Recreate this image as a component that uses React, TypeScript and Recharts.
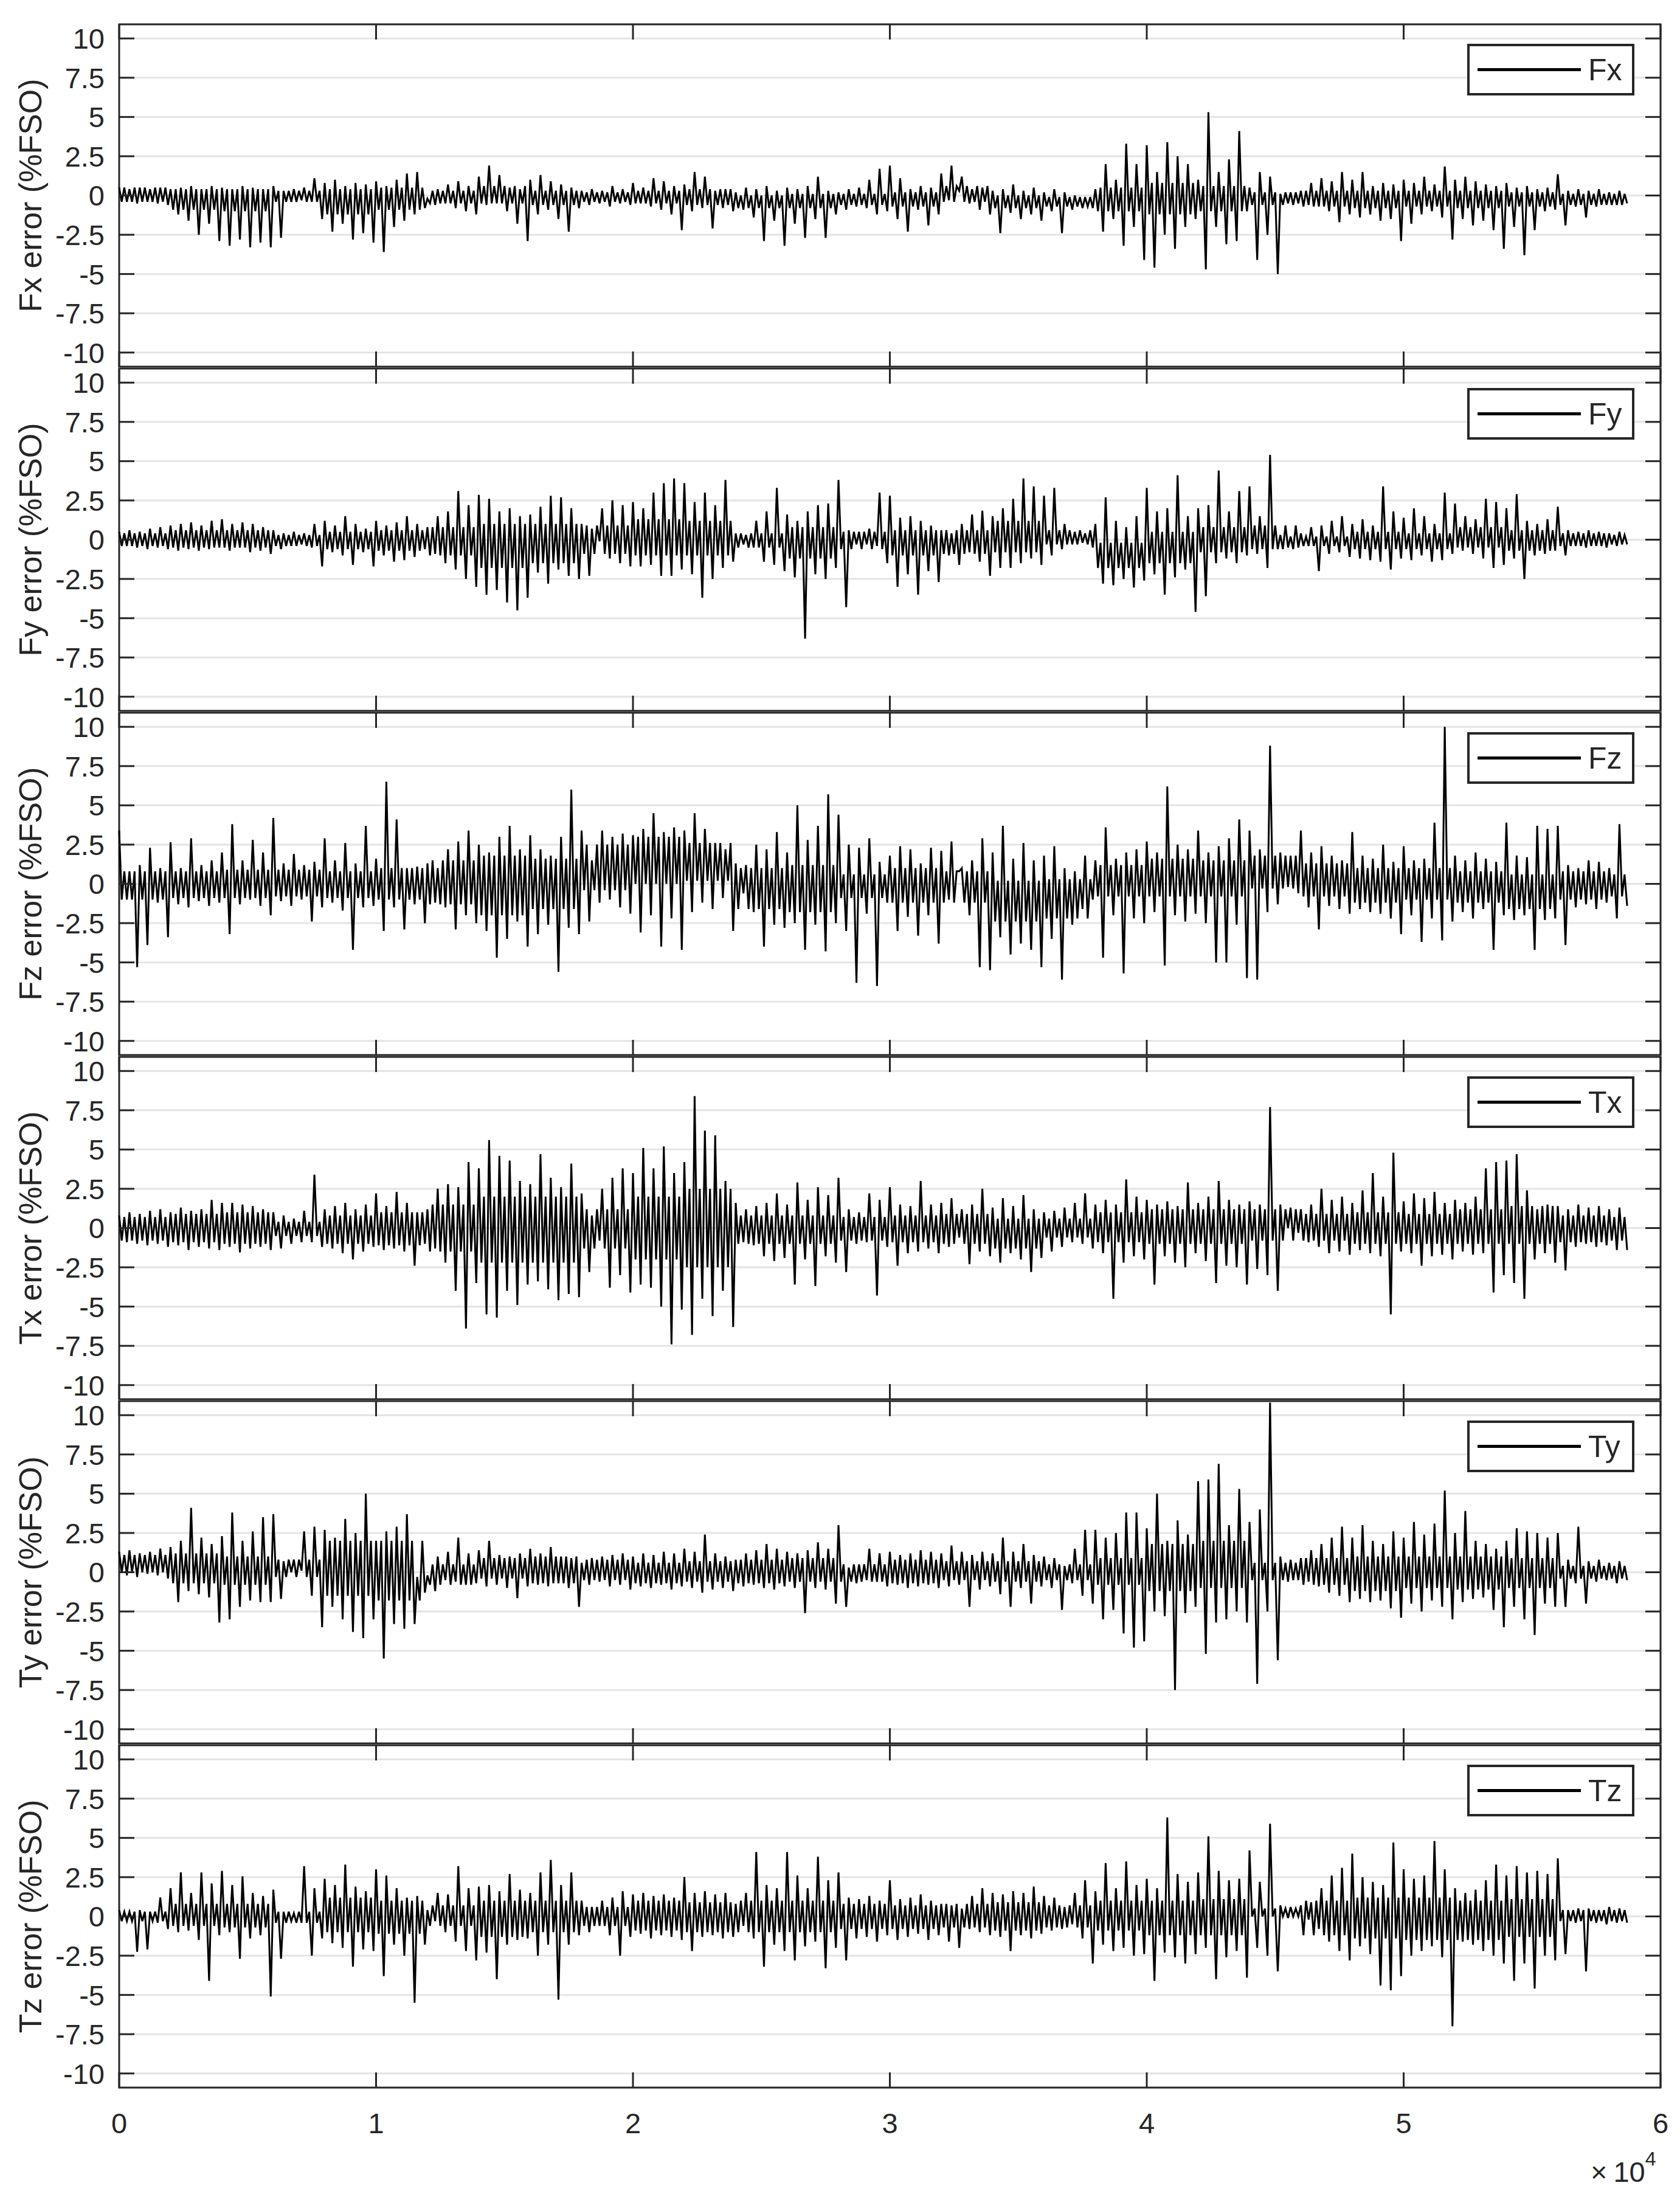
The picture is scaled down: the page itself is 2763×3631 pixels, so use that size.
import React from 'react';
import { LineChart, Line, XAxis, YAxis, CartesianGrid, ReferenceArea, Legend } from 'recharts';

// one stored window = 400 samples, one core block = 2000 samples
const windowSize = 400;
const blockWindows = 5;

const channels = ['Fx', 'Fy', 'Fz', 'Tx', 'Ty', 'Tz'];
const xTicks = [0, 10000, 20000, 30000, 40000, 50000, 60000];
const xTickLabels = ['0', '1', '2', '3', '4', '5', '6'];
const yTicks = [-10, -7.5, -5, -2.5, 0, 2.5, 5, 7.5, 10];

// peaks: local max / local min per 400-sample window
const fx = [
  0.5, -0.4, 0.4, -0.5, 0.5, -0.4, 0.4, -0.5, 0.5, -0.6, 0.4, -1.2, 0.5, -1.6, 0.6, -2.5, 0.4, -1.8, 0.6, -2.9,
  0.5, -3.2, 0.4, -2.8, 0.6, -3.3, 0.5, -3.0, 0.4, -3.3, 0.6, -2.7, 0.3, -0.4, 0.4, -0.3, 0.5, -0.4, 1.1, -1.5,
  0.8, -2.3, 1.0, -1.8, 0.6, -2.8, 0.8, -2.4, 0.7, -3.0, 0.9, -3.6, 0.6, -2.0, 1.0, -1.6, 1.4, -1.2, 1.5, -0.8,
  -0.2, -0.6, 0.4, -0.5, 0.7, -0.8, 0.9, -1.0, 0.6, -1.2, 1.2, -0.6, 1.9, -0.5, 1.3, -1.0, 0.5, -1.8, 0.4, -2.9,
  1.0, -1.2, 1.3, -0.9, 0.9, -1.5, 0.7, -2.3, 0.5, -0.8, 0.3, -0.6, 0.4, -0.5, 0.3, -0.7, 0.6, -0.5, 0.4, -0.6,
  0.8, -0.5, 0.5, -0.7, 1.1, -0.9, 0.9, -1.2, 0.6, -2.2, 0.7, -1.0, 1.5, -0.8, 1.2, -2.1, 0.3, -0.8, 0.4, -1.0,
  0.2, -0.9, 0.5, -1.4, 0.4, -2.9, 0.6, -1.6, 0.3, -3.2, 0.5, -1.8, 0.4, -2.7, 0.6, -1.5, 1.2, -2.7, 0.3, -1.2,
  0.2, -0.9, 0.4, -0.7, 0.5, -0.8, 1.0, -1.2, 1.7, -1.0, 1.9, -1.5, 1.1, -2.3, 0.4, -0.9, 0.6, -1.9, 0.5, -1.2,
  1.4, -0.3, 1.9, 0.3, 1.2, -0.5, 0.4, -0.9, 0.5, -1.2, 0.3, -2.4, 0.4, -1.1, 0.7, -1.5, 0.3, -1.2, 0.5, -1.6,
  0.2, -1.0, 0.4, -2.4, 0.2, -0.9, 0.0, -0.8, -0.1, -0.8, 0.4, -2.3, 2.0, -1.5, 1.0, -3.2, 3.3, -2.0, 2.0, -4.1,
  3.2, -4.6, 1.5, -2.5, 3.4, -3.4, 2.5, -2.0, 2.0, -1.5, 1.0, -4.7, 5.3, -2.0, 1.5, -3.1, 2.3, -2.9, 4.1, -1.0,
  0.5, -4.1, 1.5, -2.5, 1.2, -5.0, 0.1, -0.5, 0.2, -0.5, 0.3, -0.6, 0.8, -0.7, 1.1, -1.0, 0.9, -1.7, 1.5, -1.2,
  1.0, -1.4, 1.5, -1.2, 0.6, -1.6, 0.8, -1.5, 0.7, -2.9, 1.0, -1.8, 0.8, -1.2, 1.2, -1.0, 0.7, -1.4, 1.85, -2.8,
  1.0, -1.5, 1.2, -1.9, 0.9, -1.6, 0.7, -2.2, 0.6, -3.4, 0.8, -2.0, 0.5, -3.8, 0.6, -2.2, 0.4, -1.0, 0.5, -0.9,
  1.35, -1.9, 0.3, -0.7, 0.4, -1.4, 0.3, -0.7, 0.4, -0.6, 0.2, -0.6, 0.3, -0.5,
];

const fy = [
  0.5, -0.4, 0.6, -0.5, 0.5, -0.6, 0.7, -0.5, 0.8, -0.6, 0.9, -0.7, 1.0, -0.6, 1.1, -0.7, 0.9, -0.6, 1.2, -0.5,
  1.3, -0.7, 1.0, -0.5, 1.1, -0.8, 1.0, -0.7, 0.8, -0.9, 0.6, -0.6, 0.4, -0.4, 0.5, -0.3, 0.4, -0.5, 1.0, -1.7,
  1.2, -0.8, 0.9, -1.0, 1.5, -1.6, 1.0, -0.8, 0.7, -1.7, 1.2, -1.0, 0.9, -1.4, 1.1, -1.3, 1.5, -1.1, 1.0, -0.6,
  0.8, -0.9, 1.5, -1.5, 1.8, -1.9, 3.1, -2.5, 2.2, -3.0, 2.85, -3.5, 2.6, -3.2, 1.8, -4.0, 2.0, -4.5, 1.5, -3.7,
  1.6, -2.1, 2.1, -2.8, 2.8, -1.9, 2.7, -2.3, 2.0, -2.5, 1.0, -2.3, 0.7, -0.1, 2.0, -1.2, 2.5, -1.5, 2.2, -1.7,
  2.4, -1.7, 2.0, -1.6, 3.0, -2.3, 3.6, -2.3, 3.9, -1.9, 3.6, -2.2, 2.4, -3.7, 3.0, -2.5, 2.2, -1.8, 3.8, -1.4,
  0.4, -0.3, 0.3, -0.5, 1.2, -1.4, 1.8, -1.6, 3.3, -2.0, 1.6, -2.4, 1.2, -6.3, 1.8, -2.2, 2.2, -2.5, 2.3, -1.8,
  3.8, -4.3, 0.6, -0.3, 0.5, -0.3, 0.7, -0.4, 3.0, -1.5, 2.8, -3.0, 1.4, -2.2, 1.5, -3.5, 1.2, -2.0, 0.9, -2.7,
  0.6, -1.0, 0.4, -1.6, 1.0, -0.8, 1.6, -1.4, 1.85, -2.3, 1.5, -1.8, 2.0, -1.8, 2.6, -1.5, 3.9, -1.2, 3.4, -1.6,
  2.8, -1.0, 3.3, -0.6, 1.0, -0.3, 0.5, -0.2, 0.4, -0.5, 1.0, -2.8, 2.7, -2.9, 1.2, -2.5, 0.8, -3.05, 1.5, -2.6,
  3.3, -2.2, 1.8, -3.5, 2.0, -2.4, 4.1, -1.9, 1.5, -4.6, 2.0, -3.6, 2.2, -1.5, 4.4, -1.2, 1.8, -1.5, 3.1, -1.0,
  3.4, -0.9, 1.5, -1.8, 5.4, -0.6, 0.3, -0.5, 0.2, -0.5, 0.4, -0.4, 0.8, -2.0, 0.9, -0.9, 1.2, -0.8, 1.5, -1.1,
  1.0, -1.2, 1.3, -1.3, 0.9, -1.4, 3.4, -1.9, 1.8, -1.2, 1.4, -1.3, 2.0, -1.0, 1.5, -1.4, 1.0, -1.3, 3.0, -0.9,
  2.3, -0.7, 1.5, -0.9, 1.3, -1.2, 2.6, -1.8, 2.4, -1.6, 2.0, -1.2, 2.9, -2.5, 1.2, -1.0, 1.0, -0.9, 1.3, -0.7,
  2.1, -1.0, 0.6, -0.4, 0.5, -0.5, 0.6, -0.4, 0.5, -0.5, 0.4, -0.4, 0.5, -0.3,
];

const fz = [
  3.4, -1.0, 0.8, -5.3, 1.2, -3.9, 2.3, -1.2, 1.0, -3.4, 2.65, -1.3, 1.0, -1.5, 2.9, -1.1, 1.2, -1.4, 1.5, -1.2,
  2.0, -3.2, 3.8, -1.3, 1.5, -1.0, 2.8, -1.4, 2.0, -2.0, 4.2, -1.1, 1.3, -1.4, 1.9, -1.0, 1.2, -2.4, 1.4, -1.5,
  2.9, -1.2, 1.5, -1.7, 2.6, -4.2, 1.3, -1.5, 3.7, -1.4, 1.6, -3.0, 6.5, -1.5, 4.1, -2.9, 1.0, -1.3, 1.1, -2.5,
  1.3, -1.2, 1.0, -1.5, 2.2, -2.9, 2.7, -2.0, 3.4, -2.5, 2.5, -3.0, 2.0, -4.7, 3.0, -3.5, 3.7, -2.4, 2.2, -4.0,
  3.1, -3.2, 2.2, -2.6, 1.8, -5.6, 3.0, -2.8, 6.0, -3.2, 3.4, -2.4, 1.5, -1.2, 3.4, -1.0, 3.0, -1.5, 3.2, -1.9,
  3.1, -3.1, 3.5, -2.0, 4.5, -4.0, 3.3, -2.2, 3.6, -4.2, 3.4, -1.8, 4.5, -1.2, 3.5, -1.6, 2.6, -0.9, 2.2, -3.0,
  1.3, -0.6, 1.2, -1.8, 2.5, -4.0, 2.2, -2.6, 3.3, -2.8, 2.0, -2.5, 5.0, -4.2, 2.8, -2.6, 3.7, -4.3, 5.7, -2.5,
  4.4, -3.0, 2.5, -6.3, 2.3, -1.9, 2.9, -6.5, 1.4, -1.2, 1.8, -3.0, 2.4, -2.1, 2.2, -3.3, 1.3, -2.0, 2.3, -3.8,
  2.1, -1.0, 2.7, 0.8, 1.0, -2.0, 1.5, -5.3, 2.9, -5.5, 2.0, -3.4, 3.7, -4.5, 1.6, -3.8, 2.6, -4.2, 1.5, -5.3,
  1.8, -3.5, 2.4, -6.1, 1.0, -2.6, 0.8, -1.6, 1.8, -1.0, 1.5, -4.7, 3.6, -2.0, 1.6, -5.7, 2.0, -2.2, 2.2, -2.5,
  2.7, -1.8, 2.0, -5.2, 6.2, -2.0, 2.5, -2.4, 2.2, -1.9, 3.4, -2.5, 2.0, -5.0, 2.4, -5.0, 2.9, -2.6, 4.1, -6.0,
  3.4, -6.1, 2.2, -1.8, 8.8, -1.3, 2.0, -0.2, 1.8, -0.6, 3.4, -1.5, 2.0, -2.9, 2.4, -1.4, 1.8, -1.6, 1.5, -1.9,
  3.3, -1.6, 1.8, -1.8, 1.6, -1.9, 2.5, -2.2, 1.4, -3.2, 2.4, -2.0, 1.5, -3.7, 1.6, -2.2, 3.9, -3.6, 10.0, -2.4,
  1.8, -1.8, 1.5, -2.2, 2.0, -1.6, 1.6, -4.2, 1.4, -2.0, 3.9, -2.3, 1.8, -2.0, 1.7, -4.2, 3.7, -2.3, 3.5, -2.2,
  3.7, -3.9, 1.2, -1.5, 1.0, -1.3, 1.5, -1.6, 1.4, -1.2, 1.0, -2.2, 3.8, -1.4,
];

const tx = [
  0.8, -0.9, 1.0, -1.0, 0.9, -1.1, 1.1, -1.0, 1.2, -1.2, 1.0, -1.1, 1.3, -1.4, 1.1, -1.2, 1.2, -1.3, 1.8, -1.4,
  1.6, -1.2, 1.6, -1.55, 1.5, -1.3, 1.4, -1.2, 1.2, -1.4, 1.0, -1.3, 0.8, -1.0, 0.6, -0.9, 1.1, -0.9, 3.4, -1.2,
  1.2, -1.3, 1.4, -1.6, 1.6, -2.0, 1.2, -1.5, 1.5, -1.2, 2.2, -1.4, 1.4, -1.3, 2.3, -1.5, 1.6, -2.4, 1.0, -1.0,
  1.2, -1.3, 2.5, -2.2, 2.8, -4.0, 2.6, -6.4, 4.2, -3.5, 3.8, -5.5, 5.6, -5.7, 4.6, -4.0, 4.3, -4.9, 3.0, -3.6,
  2.8, -3.4, 4.7, -3.9, 3.2, -4.6, 2.6, -4.2, 4.1, -4.4, 2.2, -2.8, 0.8, -0.8, 2.5, -3.8, 3.2, -3.0, 3.8, -4.1,
  3.5, -3.6, 5.1, -3.8, 3.8, -5.0, 5.2, -7.4, 3.5, -5.2, 4.2, -6.8, 8.4, -4.5, 6.2, -5.6, 5.9, -4.0, 3.0, -6.3,
  1.6, -0.9, 1.2, -1.1, 1.4, -1.8, 1.6, -2.1, 2.2, -1.9, 1.5, -3.6, 2.9, -2.0, 1.8, -3.7, 2.6, -1.8, 2.1, -2.2,
  3.2, -2.8, 1.2, -1.0, 1.0, -0.9, 2.2, -4.3, 1.8, -1.2, 2.6, -2.4, 1.5, -1.6, 1.4, -1.5, 3.0, -1.3, 1.5, -1.6,
  1.6, -1.2, 1.9, -0.6, 1.2, -2.3, 1.5, -1.5, 2.5, -1.8, 1.3, -2.2, 1.9, -1.6, 1.4, -2.0, 2.1, -2.8, 1.2, -1.9,
  1.0, -1.5, 1.1, -1.2, 1.3, -0.9, 1.6, -1.0, 2.2, -1.3, 1.5, -1.6, 1.8, -4.5, 1.5, -2.2, 3.1, -1.8, 2.0, -2.0,
  1.8, -3.6, 1.5, -1.8, 1.7, -2.2, 1.4, -2.5, 2.9, -1.6, 1.6, -2.1, 2.0, -3.5, 3.0, -2.4, 1.8, -2.5, 1.5, -3.6,
  1.7, -2.6, 1.5, -3.0, 7.7, -4.0, 1.5, 0.0, 1.3, -0.3, 1.2, -0.9, 1.5, -1.2, 2.5, -1.6, 1.8, -1.5, 2.0, -1.7,
  1.6, -1.4, 2.4, -1.6, 3.5, -1.8, 2.0, -5.5, 4.8, -1.5, 1.7, -1.6, 2.2, -2.4, 1.9, -1.8, 2.3, -1.7, 1.6, -2.0,
  1.8, -1.5, 1.6, -1.7, 2.0, -1.6, 3.8, -4.1, 4.2, -3.0, 4.3, -3.5, 4.7, -4.5, 2.4, -2.0, 1.2, -1.6, 1.5, -2.2,
  1.4, -2.7, 1.2, -1.2, 1.5, -1.0, 1.3, -1.2, 1.4, -1.1, 1.2, -1.4, 1.3, -1.4,
];

const ty = [
  1.3, -0.2, 1.4, -0.3, 1.2, -0.1, 1.3, -0.2, 1.5, -0.4, 1.6, -1.9, 2.0, -1.2, 4.1, -1.4, 2.2, -1.6, 1.8, -3.2,
  2.3, -3.0, 3.8, -2.2, 2.0, -1.8, 2.6, -1.9, 3.5, -1.9, 3.7, -1.7, 0.7, 0.0, 0.8, 0.1, 2.6, -1.5, 2.9, -3.5,
  2.7, -2.2, 2.2, -3.0, 3.4, -3.8, 2.5, -4.2, 5.0, -3.0, 2.0, -5.5, 2.6, -3.3, 2.9, -3.6, 3.7, -3.3, -0.3, -1.3,
  -0.2, -1.2, 1.0, -0.5, 1.3, -0.6, 2.2, -0.8, 1.2, -0.7, 1.4, -0.9, 2.0, -0.8, 1.1, -1.0, 1.0, -1.65, 1.2, -0.9,
  1.5, -0.8, 1.2, -0.9, 1.6, -0.7, 1.0, -1.0, 0.9, -2.2, 0.6, -0.8, 0.9, -0.6, 1.0, -0.9, 1.1, -0.8, 1.2, -1.1,
  1.0, -0.9, 1.2, -1.0, 1.1, -0.8, 1.3, -1.1, 1.2, -0.9, 1.5, -1.0, 1.3, -1.3, 2.4, -1.1, 1.2, -1.0, 1.0, -1.2,
  0.8, -0.9, 1.2, -0.8, 1.4, -1.0, 1.8, -1.1, 1.5, -0.9, 1.3, -1.0, 1.2, -2.6, 1.4, -1.0, 1.9, -1.1, 1.5, -2.0,
  3.0, -2.2, 0.3, -0.7, 0.5, -0.5, 1.5, -0.6, 1.2, -0.9, 1.3, -0.8, 1.1, -1.0, 1.2, -0.9, 1.4, -0.8, 1.3, -1.0,
  1.2, -0.9, 1.7, -0.8, 1.3, -2.2, 1.1, -1.1, 1.3, -0.9, 1.2, -1.4, 2.2, -2.2, 1.3, -1.0, 1.8, -2.0, 1.1, -0.9,
  1.0, -1.0, 0.9, -2.4, 0.4, -0.7, 1.5, -1.5, 2.7, -2.0, 2.7, -3.0, 2.2, -2.4, 2.5, -3.9, 3.8, -4.8, 3.8, -4.4,
  2.8, -2.5, 5.0, -2.8, 2.0, -7.5, 3.3, -2.6, 2.4, -2.2, 5.8, -5.2, 5.9, -3.2, 6.9, -3.0, 3.0, -2.5, 5.3, -3.2,
  3.2, -7.1, 4.0, -2.5, 10.8, -5.6, 1.0, -0.6, 0.8, -0.5, 0.9, -0.6, 1.4, -0.9, 1.8, -1.3, 2.2, -1.5, 2.9, -1.9,
  2.2, -1.7, 3.0, -1.9, 2.0, -1.8, 1.8, -2.3, 2.6, -2.9, 2.2, -2.0, 3.2, -2.5, 2.4, -1.8, 3.1, -2.2, 5.2, -3.0,
  2.5, -1.9, 3.9, -1.7, 2.0, -1.6, 1.8, -2.4, 1.5, -3.5, 2.0, -2.2, 2.8, -3.0, 2.6, -4.0, 2.5, -2.0, 2.2, -2.2,
  2.5, -2.2, 0.8, -0.7, 2.9, -2.0, 0.7, -0.6, 0.8, -0.5, 0.6, -0.7, 0.7, -0.5,
];

const tz = [
  0.4, -0.3, 0.3, -2.25, 0.4, -2.1, 0.3, -0.4, 1.2, -0.8, 1.8, -1.0, 2.8, -0.9, 1.5, -1.5, 2.8, -4.1, 2.1, -1.2,
  2.9, -1.0, 2.0, -2.7, 2.55, -1.4, 1.5, -1.2, 1.3, -5.1, 1.7, -2.7, 0.3, -0.3, 0.2, -0.4, 3.2, -2.5, 1.8, -1.4,
  2.4, -1.7, 2.0, -2.0, 3.3, -3.2, 1.9, -2.1, 1.6, -2.2, 3.0, -3.8, 2.6, -1.8, 1.8, -2.5, 1.2, -5.5, 1.3, -1.8,
  0.4, -0.3, 1.5, -1.0, 1.4, -1.6, 3.2, -2.2, 1.8, -2.8, 1.9, -2.3, 2.0, -4.0, 1.6, -1.8, 2.7, -1.5, 1.7, -1.4,
  1.5, -2.5, 2.8, -1.8, 3.6, -5.3, 2.0, -1.8, 2.8, -1.2, 1.0, -1.0, 0.6, -0.6, 1.0, -1.2, 1.2, -2.5, 1.6, -1.3,
  1.4, -1.1, 1.5, -1.4, 1.3, -1.2, 1.4, -1.3, 1.2, -1.5, 2.5, -2.2, 1.5, -1.3, 1.6, -1.2, 1.4, -1.4, 1.5, -1.3,
  0.8, -0.6, 1.5, -1.4, 4.1, -3.2, 2.0, -1.8, 1.8, -2.2, 4.1, -2.8, 2.6, -1.9, 1.8, -1.6, 3.8, -3.3, 2.3, -2.0,
  2.8, -2.8, 1.2, -1.4, 1.1, -1.3, 1.3, -1.6, 1.0, -1.2, 2.3, -1.5, 1.1, -1.3, 1.2, -1.1, 1.4, -1.5, 1.0, -1.2,
  0.8, -1.6, 0.7, -2.0, 0.5, -0.8, 1.3, -1.0, 1.8, -1.2, 1.5, -1.3, 1.4, -2.2, 1.6, -1.2, 1.5, -1.4, 1.9, -1.1,
  1.3, -0.9, 1.2, -0.8, 0.6, -0.5, 1.5, -1.4, 2.3, -3.0, 1.6, -1.8, 3.4, -2.2, 1.8, -2.0, 3.5, -2.5, 2.0, -2.4,
  2.4, -4.1, 1.8, -2.3, 6.3, -2.6, 2.7, -3.0, 2.2, -2.4, 2.8, -2.0, 5.1, -4.0, 2.9, -2.6, 2.3, -2.2, 2.4, -3.9,
  4.2, -2.0, 2.2, -2.5, 5.9, -3.5, 0.7, -0.1, 0.6, 0.0, 0.7, -0.2, 0.9, -0.8, 1.8, -1.6, 2.6, -2.2, 3.1, -2.8,
  4.0, -1.9, 2.5, -2.4, 2.2, -4.4, 2.0, -4.7, 4.7, -3.8, 3.0, -2.5, 2.4, -2.2, 2.6, -1.9, 4.8, -2.6, 3.0, -7.0,
  1.8, -1.6, 1.5, -1.8, 1.7, -2.2, 2.3, -2.5, 3.3, -3.0, 2.6, -4.1, 3.2, -3.0, 2.8, -4.6, 2.9, -2.5, 2.7, -2.8,
  3.7, -2.4, 0.4, -0.4, 0.5, -3.5, 0.5, -0.4, 0.4, -0.5, 0.6, -0.4, 0.5, -0.4,
];

// dense core of each trace: upper / lower edge of the solid band per 2000-sample block
const fxCore = [
  0.5, -0.4, 0.4, -0.9, 0.4, -1.0, 0.3, -0.4, 0.4, -1.2, 0.5, -0.9, 0.3, -0.5, 0.6, -0.5, 0.3, -0.6, 0.2, -0.4,
  0.3, -0.5, 0.4, -0.6, 0.0, -0.8, 0.1, -0.8, 0.1, -0.6, 0.2, -0.7, 0.6, -0.4, 0.0, -0.8, -0.1, -0.7, 0.5, -1.0,
  0.8, -1.2, 0.6, -1.0, 0.2, -0.6, 0.3, -0.7, 0.3, -0.8, 0.3, -0.7, 0.3, -0.8, 0.2, -0.7, 0.1, -0.6, 0.1, -0.6,
];
const fyCore = [
  0.4, -0.4, 0.6, -0.5, 0.6, -0.5, 0.3, -0.4, 0.5, -0.6, 0.6, -0.7, 0.8, -1.0, 1.0, -1.8, 1.0, -1.5, 0.9, -0.9,
  1.3, -1.0, 1.2, -1.0, 0.4, -0.5, 0.8, -1.2, 0.5, -0.6, 0.6, -1.0, 0.6, -0.9, 1.2, -0.8, 0.6, -0.3, -0.2, -1.8,
  0.5, -1.5, 0.8, -0.8, 0.9, -0.6, 0.2, -0.4, 0.5, -0.6, 0.4, -0.6, 0.8, -0.5, 0.6, -0.7, 0.4, -0.4, 0.3, -0.3,
];
const fzCore = [
  0.8, -1.0, 0.8, -0.9, 0.9, -0.9, 0.9, -0.8, 0.8, -0.9, 1.0, -1.0, 1.5, -1.3, 1.8, -2.0, 1.6, -1.6, 2.5, -0.4,
  3.0, 0.0, 2.6, 0.2, 1.0, -1.6, 1.2, -1.8, 0.6, -0.9, 1.0, -1.2, 0.8, -1.2, 0.2, -2.4, 0.3, -2.2, 1.2, -0.8,
  1.6, -0.8, 1.5, -0.8, 1.8, -0.3, 1.3, -0.8, 1.0, -1.2, 1.0, -1.0, 0.8, -1.2, 0.6, -1.6, 0.8, -1.0, 0.6, -0.8,
];
const txCore = [
  0.7, -0.8, 0.9, -0.9, 1.0, -1.0, 0.4, -0.5, 0.8, -1.0, 1.0, -1.1, 1.5, -1.5, 2.0, -2.2, 2.0, -2.2, 1.2, -1.3,
  2.0, -2.0, 2.5, -2.5, 0.8, -1.0, 0.8, -1.0, 0.7, -0.8, 0.8, -0.9, 0.9, -1.0, 0.6, -1.3, 0.6, -0.6, 1.0, -0.9,
  1.2, -1.0, 1.2, -1.0, 1.2, -0.8, 0.9, -0.8, 1.0, -1.0, 0.9, -1.0, 1.2, -1.0, 1.4, -1.0, 0.8, -0.9, 0.7, -0.8,
];
const tyCore = [
  1.1, 0.0, 1.2, -0.7, 1.0, -0.8, 0.8, -0.3, 2.0, -1.5, 2.0, -1.8, 0.5, -0.8, 0.9, -0.4, 1.0, -0.7, 0.8, -0.5,
  0.6, -0.7, 0.7, -0.6, 0.8, -0.7, 0.9, -0.6, 0.5, -0.6, 0.8, -0.7, 0.7, -0.5, 0.7, -0.6, 0.5, -0.5, 0.9, -0.8,
  1.8, -1.2, 2.0, -1.0, 0.6, -0.5, 0.9, -0.8, 1.0, -1.2, 1.0, -1.0, 1.0, -1.1, 0.9, -1.0, 0.4, -0.4, 0.4, -0.4,
];
const tzCore = [
  0.3, -0.3, 0.8, -0.6, 0.8, -0.7, 0.3, -0.4, 1.2, -1.0, 1.0, -1.1, 0.7, -0.6, 1.0, -1.3, 1.0, -1.0, 0.6, -0.6,
  1.0, -0.9, 0.9, -1.0, 1.0, -1.0, 1.0, -1.0, 0.8, -0.8, 0.7, -0.8, 0.8, -0.7, 0.9, -0.9, 0.7, -0.7, 1.0, -0.9,
  1.0, -1.2, 1.1, -1.2, 0.5, 0.0, 1.0, -1.2, 1.2, -1.4, 1.2, -1.5, 1.0, -1.5, 1.1, -1.3, 0.4, -0.3, 0.4, -0.3,
];

const peaks: Record<string, number[]> = { Fx: fx, Fy: fy, Fz: fz, Tx: tx, Ty: ty, Tz: tz };
const cores: Record<string, number[]> = { Fx: fxCore, Fy: fyCore, Fz: fzCore, Tx: txCore, Ty: tyCore, Tz: tzCore };

// each window is drawn as: peak max, core low, core high, peak min
const windowCount = fx.length / 2;
const rows: Record<string, number>[] = [];
for (let k = 0; k < windowCount; k++) {
  const b = Math.floor(k / blockWindows);
  const step = windowSize / 4;
  const picks = [
    (c: string) => peaks[c][2 * k],
    (c: string) => cores[c][2 * b + 1],
    (c: string) => cores[c][2 * b],
    (c: string) => peaks[c][2 * k + 1],
  ];
  picks.forEach((pick, j) => {
    const row: Record<string, number> = { sample: k * windowSize + j * step };
    channels.forEach((c) => {
      row[c] = pick(c);
    });
    rows.push(row);
  });
}

// layout (px)
const W = 2763;
const PITCH = 566;
const PLOT_LEFT = 196;
const PLOT_RIGHT = 2731;
const PLOT_TOP = 40;
const PLOT_H = 563;
const TICK_LEN = 25;
const INK = '#262626';
const FONT = '"Liberation Sans", Arial, Helvetica, sans-serif';

function YTick(props: any) {
  const { y, payload } = props;
  return (
    <g>
      <line x1={PLOT_LEFT} x2={PLOT_LEFT + TICK_LEN} y1={y} y2={y} stroke={INK} strokeWidth={3} />
      <line x1={PLOT_RIGHT - TICK_LEN} x2={PLOT_RIGHT} y1={y} y2={y} stroke={INK} strokeWidth={3} />
      <text x={PLOT_LEFT - 24} y={y} dy="0.36em" textAnchor="end" fontSize={47} fill={INK} fontFamily={FONT}>
        {String(payload.value)}
      </text>
    </g>
  );
}

const makeXTick = (last: boolean) => (props: any) => {
  const { x, payload } = props;
  const bottom = PLOT_TOP + PLOT_H;
  return (
    <g>
      <line x1={x} x2={x} y1={bottom} y2={bottom - TICK_LEN} stroke={INK} strokeWidth={3} />
      <line x1={x} x2={x} y1={PLOT_TOP} y2={PLOT_TOP + TICK_LEN} stroke={INK} strokeWidth={3} />
      {last && (
        <text x={x} y={bottom + 75} textAnchor="middle" fontSize={47} fill={INK} fontFamily={FONT}>
          {xTickLabels[xTicks.indexOf(payload.value)]}
        </text>
      )}
    </g>
  );
};

function LegendBox({ label }: { label: string }) {
  return (
    <div
      style={{
        boxSizing: 'border-box',
        width: 275,
        height: 85,
        border: `4px solid ${INK}`,
        background: '#fff',
        display: 'flex',
        alignItems: 'center',
      }}
    >
      <span style={{ display: 'inline-block', width: 170, height: 5, background: '#000', marginLeft: 13 }} />
      <span style={{ marginLeft: 12, fontSize: 50, color: INK, fontFamily: FONT, lineHeight: 1 }}>{label}</span>
    </div>
  );
}

function Panel({ name, index }: { name: string; index: number }) {
  const last = index === channels.length - 1;
  const height = last ? 801 : 640;
  const midY = PLOT_TOP + PLOT_H / 2;
  return (
    <div style={{ position: 'absolute', left: 0, top: index * PITCH }}>
      <LineChart
        width={W}
        height={height}
        data={rows}
        margin={{ top: PLOT_TOP, right: W - PLOT_RIGHT, left: PLOT_LEFT - 1, bottom: height - PLOT_TOP - PLOT_H - 1 }}
      >
        <CartesianGrid vertical={false} stroke="#e4e4e4" strokeWidth={3} />
        <XAxis
          dataKey="sample"
          type="number"
          domain={[0, 60000]}
          ticks={xTicks}
          interval={0}
          height={1}
          axisLine={false}
          tickLine={false}
          tick={makeXTick(last)}
          label={
            last
              ? () => (
                  <text x={2616} y={758} fontSize={47} fill={INK} fontFamily={FONT}>
                    ×
                    <tspan dx={10}>10</tspan>
                    <tspan dy={-27} fontSize={32}>
                      4
                    </tspan>
                  </text>
                )
              : undefined
          }
        />
        <YAxis
          type="number"
          domain={[-10.9, 10.9]}
          ticks={yTicks}
          interval={0}
          width={1}
          allowDataOverflow
          axisLine={false}
          tickLine={false}
          tick={YTick}
          label={() => (
            <text
              x={68}
              y={midY}
              transform={`rotate(-90 68 ${midY})`}
              textAnchor="middle"
              fontSize={52}
              fill={INK}
              fontFamily={FONT}
            >
              {`${name} error (%FSO)`}
            </text>
          )}
        />
        <ReferenceArea
          x1={0}
          x2={60000}
          y1={-10.9}
          y2={10.9}
          fill="none"
          stroke={INK}
          strokeWidth={3}
          ifOverflow="visible"
        />
        <Line
          type="linear"
          dataKey={name}
          name={name}
          stroke="#000"
          strokeWidth={3}
          dot={false}
          activeDot={false}
          isAnimationActive={false}
        />
        <Legend
          layout="horizontal"
          verticalAlign="middle"
          align="center"
          wrapperStyle={{ left: 2413, top: 72, width: 275, height: 85, margin: 0 }}
          content={(p: any) => <LegendBox label={p?.payload?.[0]?.value ?? name} />}
        />
      </LineChart>
    </div>
  );
}

export default function App() {
  return (
    <div style={{ position: 'absolute', left: 0, top: 0, width: W, height: 3631, background: '#fff' }}>
      {channels.map((c, i) => (
        <Panel key={c} name={c} index={i} />
      ))}
    </div>
  );
}
